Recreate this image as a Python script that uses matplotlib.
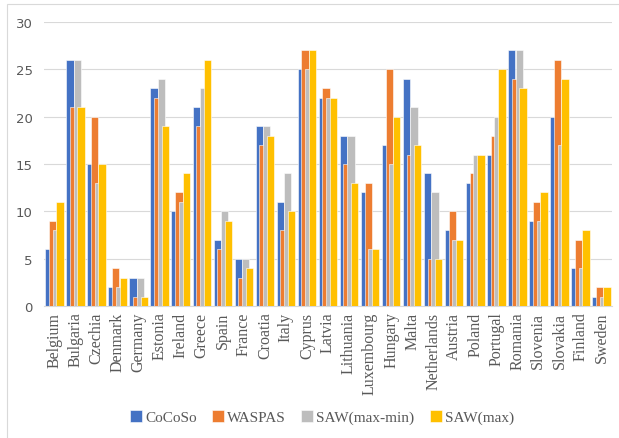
import numpy as np
import matplotlib.pyplot as plt
from matplotlib.patches import Rectangle

countries = ['Belgium', 'Bulgaria', 'Czechia', 'Denmark', 'Germany', 'Estonia',
             'Ireland', 'Greece', 'Spain', 'France', 'Croatia', 'Italy', 'Cyprus',
             'Latvia', 'Lithuania', 'Luxembourg', 'Hungary', 'Malta', 'Netherlands',
             'Austria', 'Poland', 'Portugal', 'Romania', 'Slovenia', 'Slovakia',
             'Finland', 'Sweden']

cocoso = [6, 26, 15, 2, 3, 23, 10, 21, 7, 5, 19, 11, 25, 22, 18, 12, 17, 24, 14,
          8, 13, 16, 27, 9, 20, 4, 1]
waspas = [9, 21, 20, 4, 1, 22, 12, 19, 6, 3, 17, 8, 27, 23, 15, 13, 25, 16, 5,
          10, 14, 18, 24, 11, 26, 7, 2]
saw_maxmin = [8, 26, 13, 2, 3, 24, 11, 23, 10, 5, 19, 14, 25, 22, 18, 6, 15, 21, 12,
              7, 16, 20, 27, 9, 17, 4, 1]
saw_max = [11, 21, 15, 3, 1, 19, 14, 26, 9, 4, 18, 10, 27, 22, 13, 6, 20, 17, 5,
           7, 16, 25, 23, 12, 24, 8, 2]

series = [('CoCoSo', cocoso, '#4472C4'),
          ('WASPAS', waspas, '#ED7D31'),
          ('SAW(max-min)', saw_maxmin, '#BDBDBD'),
          ('SAW(max)', saw_max, '#FFC000')]

fig = plt.figure(figsize=(6.19, 4.39), dpi=100)
ax = fig.add_axes([44 / 619, 1 - 307 / 439, (612 - 44) / 619, (307 - 23) / 439])

# chart frame (light border, only left/top visible in the crop)
fig.patches.append(Rectangle((7 / 619, -0.1), 1.2, 1 - 5 / 439 + 0.1,
                             transform=fig.transFigure, fill=False,
                             edgecolor='#D9D9D9', linewidth=0.8))

x = np.arange(len(countries))
step = 0.177
width = 0.35
for i, (name, vals, color) in enumerate(series):
    ax.bar(x + (i - 1.5) * step, vals, width=width, color=color, label=name,
           edgecolor='white', linewidth=0.4, zorder=2 + i)

ax.set_xlim(-0.5, len(countries) - 0.5)
ax.set_ylim(0, 30)
ax.set_yticks(range(0, 31, 5))
ax.grid(axis='y', color='#D9D9D9', linewidth=0.8, zorder=0)
ax.set_axisbelow(True)
for side in ['top', 'right', 'left']:
    ax.spines[side].set_visible(False)
ax.spines['bottom'].set_color('#D9D9D9')
ax.tick_params(axis='both', length=0)
ax.tick_params(axis='y', labelcolor='#595959', labelsize=9.5, pad=8)
ax.set_xticks(x)
ax.set_xticklabels(countries, rotation=90, family='Liberation Serif',
                   fontsize=11.5, color='#595959')
ax.tick_params(axis='x', pad=4)

fig.legend(loc='center', bbox_to_anchor=(322 / 619, 1 - 418 / 439), ncol=4,
           frameon=False, handlelength=0.8, handleheight=0.8,
           handletextpad=0.2, columnspacing=1.0,
           prop={'family': 'Liberation Serif', 'size': 11}, labelcolor='#595959')

fig.savefig('out.png', dpi=100)
